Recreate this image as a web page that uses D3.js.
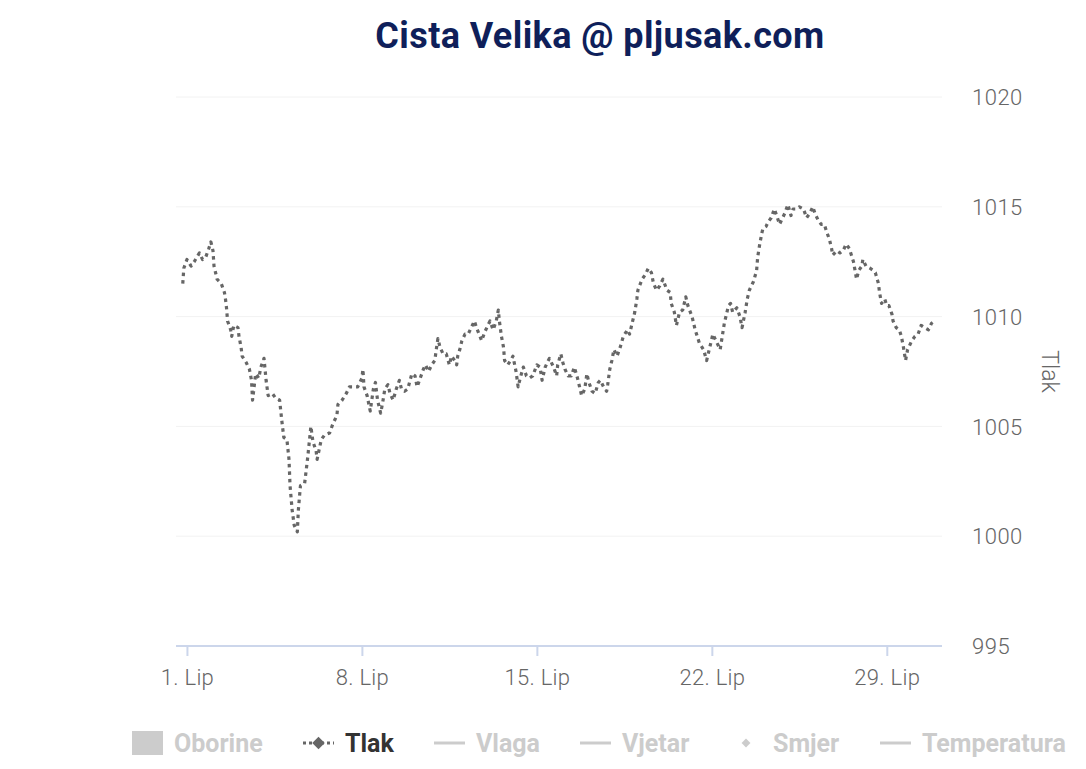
<!DOCTYPE html>
<html><head><meta charset="utf-8">
<script src="https://cdn.jsdelivr.net/npm/d3@7"></script>
<style>
html,body{margin:0;padding:0;background:#fff;}
svg{display:block;}
</style></head>
<body>
<svg id="chart" width="1086" height="769"></svg>
<script>
const titleText = "Cista Velika @ pljusak.com";
const yAxisTitle = "Tlak";
const monthLabel = "Lip";
const tickDays = [1, 8, 15, 22, 29];
const yTicks = [995, 1000, 1005, 1010, 1015, 1020];
const legendNames = ["Oborine", "Tlak", "Vlaga", "Vjetar", "Smjer", "Temperatura"];
const legendSymbols = ["rect", "dotdiamond", "line", "line", "diamond", "line"];
const legendActive = [false, true, false, false, false, false];

// hours since 1 June 00:00
const hours = [-4,-3,0,4,7,12,15,18,21,23,25,26,29,33,36,37,38,39,42,43,45,49,50,52,53,57,60,62,63,65,66,69,71,74,76,78,82,85,89,91,93,96,98,99,101,103,106,107,109,113,116,119,121,124,125,129,132,137,140,144,145,149,153,156,160,164,168,169,170,173,176,179,181,183,186,188,190,193,195,198,201,204,206,209,212,216,219,221,224,227,229,232,235,238,240,241,243,246,249,252,254,257,259,260,262,264,267,270,273,276,278,283,286,289,291,294,297,299,300,302,304,305,308,312,313,316,318,320,323,326,329,332,336,339,341,344,346,348,352,355,356,359,361,363,366,369,372,375,377,379,382,384,386,389,392,395,397,400,403,404,406,408,410,413,416,419,423,425,428,430,432,433,437,440,443,446,448,451,454,457,461,464,465,468,470,473,476,479,481,485,488,492,496,499,502,505,508,512,514,516,520,522,524,528,531,533,536,538,540,544,547,548,550,552,553,556,558,561,564,567,569,572,574,577,580,582,585,588,592,595,598,601,603,606,609,612,614,617,619,620,624,627,630,633,636,638,640,643,645,648,649,652,656,659,661,664,665,667,670,672,674,677,678,681,684,686,688,690,692,696,699,702,705,708,712,715,718];
// pressure (hPa)
const tlak = [1011.5,1012.2,1012.6,1012.3,1012.5,1012.9,1012.6,1012.7,1013.1,1013.4,1013.0,1012.3,1011.7,1011.5,1011.1,1010.8,1010.4,1009.8,1009.4,1009.1,1009.6,1009.5,1009.1,1008.6,1008.2,1007.9,1007.6,1007.1,1006.2,1007.0,1007.4,1007.2,1007.7,1008.1,1007.1,1006.4,1006.5,1006.3,1006.2,1005.3,1004.5,1004.4,1003.5,1002.3,1001.2,1000.5,1000.2,1001.2,1002.3,1002.4,1003.6,1005.0,1004.3,1003.9,1003.5,1004.4,1004.6,1004.7,1005.1,1005.5,1006.0,1006.2,1006.5,1006.8,1006.8,1006.8,1007.2,1007.6,1006.8,1006.4,1005.7,1006.7,1007.0,1006.2,1005.6,1006.1,1006.7,1006.9,1006.5,1006.2,1006.7,1007.1,1006.7,1006.6,1006.7,1007.4,1007.3,1006.8,1007.2,1007.6,1007.8,1007.5,1007.8,1008.0,1008.7,1009.0,1008.6,1008.3,1008.3,1007.8,1008.2,1008.0,1007.8,1008.2,1008.5,1008.9,1009.2,1009.2,1009.5,1009.8,1009.5,1008.9,1009.3,1009.6,1009.8,1009.4,1009.8,1010.3,1009.8,1009.1,1008.6,1008.0,1007.8,1008.1,1008.2,1007.5,1006.8,1007.2,1007.7,1007.3,1007.2,1007.3,1007.8,1007.7,1007.1,1007.7,1007.9,1008.1,1007.7,1007.3,1007.8,1008.3,1007.9,1007.6,1007.3,1007.3,1007.7,1007.2,1006.8,1006.4,1006.7,1007.4,1007.0,1006.6,1006.5,1007.0,1007.1,1006.8,1006.6,1006.9,1007.6,1008.0,1008.5,1008.2,1008.6,1009.1,1009.4,1009.2,1009.8,1010.2,1010.8,1011.2,1011.7,1011.9,1012.2,1012.0,1011.5,1011.2,1011.4,1011.7,1011.2,1011.1,1010.6,1010.2,1009.6,1010.2,1010.3,1010.9,1010.5,1010.0,1009.4,1008.8,1008.5,1008.0,1008.6,1009.2,1008.9,1008.5,1009.1,1009.7,1010.5,1010.6,1010.2,1010.4,1010.0,1009.5,1010.2,1010.8,1011.2,1011.6,1012.1,1012.7,1013.3,1013.8,1014.0,1014.1,1014.3,1014.5,1014.9,1014.5,1014.2,1014.5,1014.7,1015.1,1014.6,1014.9,1014.9,1015.0,1014.9,1014.5,1014.7,1015.0,1014.7,1014.4,1014.2,1014.2,1013.9,1013.5,1013.1,1012.8,1013.0,1012.9,1013.0,1013.3,1013.1,1012.8,1012.5,1011.7,1012.1,1012.3,1012.6,1012.3,1012.2,1012.1,1012.0,1011.5,1011.1,1010.6,1010.8,1010.5,1010.5,1010.1,1009.8,1009.5,1009.4,1009.1,1008.6,1008.0,1008.5,1008.9,1009.1,1009.2,1009.6,1009.5,1009.4,1009.7,1009.8];
const xPadHours = [-10.5, 725];

const base = Date.UTC(2023, 5, 1);
const HOUR = 3600e3;
const n = Math.min(hours.length, tlak.length);
const data = hours.slice(0, n).map((h, i) => ({t: new Date(base + h * HOUR), v: tlak[i]}));

const svg = d3.select("#chart");
const plotL = 176, plotR = 942, plotT = 97, plotB = 646;

const x = d3.scaleUtc()
  .domain([new Date(base + xPadHours[0] * HOUR), new Date(base + xPadHours[1] * HOUR)])
  .range([plotL, plotR]);
const y = d3.scaleLinear().domain([995, 1020]).range([plotB, plotT]);

const FONT = "Roboto, sans-serif";

// grid
svg.append("g").selectAll("line").data(yTicks.filter(d => d !== 995)).join("line")
  .attr("x1", plotL).attr("x2", plotR)
  .attr("y1", d => y(d)).attr("y2", d => y(d))
  .attr("stroke", "#f2f2f2").attr("stroke-width", 1);

// y-axis labels (right)
const yAxis = d3.axisRight(y).tickValues(yTicks).tickSize(0).tickPadding(0).tickFormat(d3.format("d"));
const gy = svg.append("g").attr("transform", `translate(972,0)`).call(yAxis);
gy.select(".domain").remove();
gy.selectAll("text").attr("font-family", FONT).attr("font-size", 22).attr("font-weight", 300)
  .attr("fill", "#666").attr("dy", "0.35em").attr("x", 0).attr("letter-spacing", 0.5);

// y axis title
svg.append("text").attr("transform", `translate(1042, ${(plotT+plotB)/2}) rotate(90)`)
  .attr("text-anchor", "middle").attr("font-family", FONT).attr("font-size", 23).attr("font-weight", 300)
  .attr("fill", "#666").text(yAxisTitle);

// x axis
const tickDates = tickDays.map(d => new Date(Date.UTC(2023, 5, d)));
const xAxis = d3.axisBottom(x).tickValues(tickDates).tickSize(10).tickPadding(13)
  .tickFormat(d => `${d.getUTCDate()}. ${monthLabel}`);
const gx = svg.append("g").attr("transform", `translate(0,${plotB})`).call(xAxis);
gx.select(".domain").attr("stroke", "#ccd6eb").attr("stroke-width", 2).attr("d", `M${plotL},0H${plotR}`);
gx.selectAll(".tick line").attr("stroke", "#ccd6eb").attr("stroke-width", 2);
gx.selectAll("text").attr("font-family", FONT).attr("font-size", 22).attr("font-weight", 300).attr("fill", "#666").attr("letter-spacing", 0.3);

// line
const line = d3.line().x(d => x(d.t)).y(d => y(d.v));
svg.append("path").datum(data).attr("d", line)
  .attr("fill", "none").attr("stroke", "#666").attr("stroke-width", 3.2)
  .attr("stroke-dasharray", "3.5,4").attr("stroke-linejoin", "round");

// title
svg.append("text").attr("x", 600).attr("y", 48).attr("text-anchor", "middle")
  .attr("font-family", FONT).attr("font-weight", 700).attr("font-size", 36).attr("letter-spacing", 0.4)
  .attr("fill", "#0f1f5a").text(titleText);

// legend
const legendX = [132, 303, 434, 580, 736, 880];
const lg = svg.append("g").attr("transform", "translate(0,743)");
legendNames.forEach((name, i) => {
  const g = lg.append("g").attr("transform", `translate(${legendX[i]},0)`);
  const col = legendActive[i] ? "#666" : "#ccc";
  const sym = legendSymbols[i];
  let tx = 42;
  if (sym === "rect") {
    g.append("rect").attr("x", 0).attr("y", -12).attr("width", 31).attr("height", 24).attr("fill", "#ccc");
  } else if (sym === "line" || sym === "dotdiamond") {
    g.append("line").attr("x1", 0).attr("x2", 31).attr("y1", 0).attr("y2", 0)
      .attr("stroke", col).attr("stroke-width", 3)
      .attr("stroke-dasharray", sym === "dotdiamond" ? "3,3" : null);
    if (sym === "dotdiamond") g.append("path").attr("d", d3.symbol(d3.symbolDiamond2, 100)()).attr("transform", "translate(15.5,0)").attr("fill", col);
  } else if (sym === "diamond") {
    g.append("path").attr("d", d3.symbol(d3.symbolDiamond2, 50)()).attr("transform", "translate(10,0)").attr("fill", col);
    tx = 37;
  }
  g.append("text").attr("x", tx).attr("y", 0).attr("dy", "0.36em")
    .attr("font-family", FONT).attr("font-weight", 700).attr("font-size", 25)
    .attr("fill", legendActive[i] ? "#333" : "#ccc").text(name);
});
</script>
</body></html>
